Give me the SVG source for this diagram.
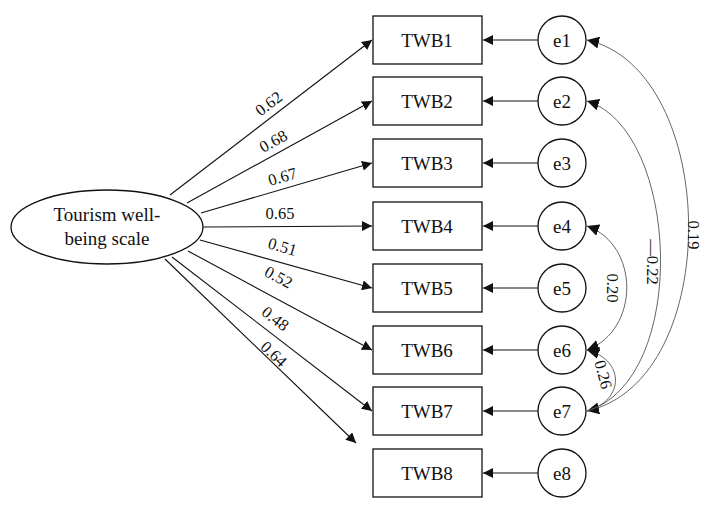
<svg xmlns="http://www.w3.org/2000/svg" width="711" height="514" viewBox="0 0 711 514">
<style>
.t{font-family:"Liberation Serif",serif;font-size:19px;fill:#111}
.l{font-family:"Liberation Serif",serif;font-size:16.5px;fill:#111}
.b{fill:#fff;stroke:#111;stroke-width:1.3}
.c{fill:none;stroke:#111;stroke-width:1.1}
.cv{fill:none;stroke:#555;stroke-width:0.9}
</style>
<defs>
<marker id="a" viewBox="0 0 10 10" refX="10" refY="5" markerWidth="10" markerHeight="10" markerUnits="userSpaceOnUse" orient="auto"><path d="M0,0L10,5L0,10z" fill="#111"/></marker>
<marker id="a2" viewBox="0 0 10 10" refX="10" refY="5" markerWidth="12" markerHeight="12" markerUnits="userSpaceOnUse" orient="auto-start-reverse"><path d="M0,0L10,5L0,10z" fill="#111"/></marker>
</defs>
<g id="latent"><ellipse class="b" cx="107" cy="227" rx="96" ry="37"/><text class="t" x="107" y="221" text-anchor="middle">Tourism well-</text><text class="t" x="107" y="245" text-anchor="middle">being scale</text></g>
<g id="TWB1"><rect class="b" x="373" y="16" width="109" height="48"/><text class="t" x="427" y="47" text-anchor="middle">TWB1</text></g>
<g id="TWB2"><rect class="b" x="373" y="77" width="109" height="48"/><text class="t" x="427" y="108" text-anchor="middle">TWB2</text></g>
<g id="TWB3"><rect class="b" x="373" y="139" width="109" height="48"/><text class="t" x="427" y="170" text-anchor="middle">TWB3</text></g>
<g id="TWB4"><rect class="b" x="373" y="202" width="109" height="48"/><text class="t" x="427" y="233" text-anchor="middle">TWB4</text></g>
<g id="TWB5"><rect class="b" x="373" y="264" width="109" height="48"/><text class="t" x="427" y="295" text-anchor="middle">TWB5</text></g>
<g id="TWB6"><rect class="b" x="373" y="326" width="109" height="48"/><text class="t" x="427" y="357" text-anchor="middle">TWB6</text></g>
<g id="TWB7"><rect class="b" x="373" y="387" width="109" height="48"/><text class="t" x="427" y="418" text-anchor="middle">TWB7</text></g>
<g id="TWB8"><rect class="b" x="373" y="449" width="109" height="48"/><text class="t" x="427" y="480" text-anchor="middle">TWB8</text></g>
<g id="e1"><circle class="b" cx="562" cy="40" r="24"/><text class="t" x="562" y="47" text-anchor="middle">e1</text></g>
<g id="e2"><circle class="b" cx="562" cy="101" r="24"/><text class="t" x="562" y="108" text-anchor="middle">e2</text></g>
<g id="e3"><circle class="b" cx="562" cy="163" r="24"/><text class="t" x="562" y="170" text-anchor="middle">e3</text></g>
<g id="e4"><circle class="b" cx="562" cy="226" r="24"/><text class="t" x="562" y="233" text-anchor="middle">e4</text></g>
<g id="e5"><circle class="b" cx="562" cy="288" r="24"/><text class="t" x="562" y="295" text-anchor="middle">e5</text></g>
<g id="e6"><circle class="b" cx="562" cy="350" r="24"/><text class="t" x="562" y="357" text-anchor="middle">e6</text></g>
<g id="e7"><circle class="b" cx="562" cy="411" r="24"/><text class="t" x="562" y="418" text-anchor="middle">e7</text></g>
<g id="e8"><circle class="b" cx="562" cy="473" r="24"/><text class="t" x="562" y="480" text-anchor="middle">e8</text></g>
<g id="connectors">
<line class="c" x1="170" y1="195" x2="372" y2="40" marker-end="url(#a)"/>
<line class="c" x1="187" y1="203" x2="372" y2="101" marker-end="url(#a)"/>
<line class="c" x1="201" y1="213" x2="372" y2="163" marker-end="url(#a)"/>
<line class="c" x1="203" y1="227" x2="372" y2="226" marker-end="url(#a)"/>
<line class="c" x1="200" y1="240" x2="372" y2="288" marker-end="url(#a)"/>
<line class="c" x1="188" y1="251" x2="372" y2="350" marker-end="url(#a)"/>
<line class="c" x1="172" y1="257" x2="372" y2="411" marker-end="url(#a)"/>
<line class="c" x1="165" y1="259" x2="356" y2="443" marker-end="url(#a)"/>
<line class="c" x1="538" y1="40" x2="483" y2="40" marker-end="url(#a)"/>
<line class="c" x1="538" y1="101" x2="483" y2="101" marker-end="url(#a)"/>
<line class="c" x1="538" y1="163" x2="483" y2="163" marker-end="url(#a)"/>
<line class="c" x1="538" y1="226" x2="483" y2="226" marker-end="url(#a)"/>
<line class="c" x1="538" y1="288" x2="483" y2="288" marker-end="url(#a)"/>
<line class="c" x1="538" y1="350" x2="483" y2="350" marker-end="url(#a)"/>
<line class="c" x1="538" y1="411" x2="483" y2="411" marker-end="url(#a)"/>
<line class="c" x1="538" y1="473" x2="483" y2="473" marker-end="url(#a)"/>
<path class="cv" d="M587,40 C720,70 725,380 587,411" marker-start="url(#a2)" marker-end="url(#a2)"/>
<path class="cv" d="M587,101 C680,130 690,380 587,411" marker-start="url(#a2)"/>
<path class="cv" d="M587,226 C640,245 640,330 587,350" marker-start="url(#a2)" marker-end="url(#a2)"/>
<path class="cv" d="M587,350 C625,360 625,400 587,411" marker-start="url(#a2)"/>
</g>
<g id="labels">
<text class="l" transform="translate(272,108) rotate(-37)" text-anchor="middle">0.62</text>
<text class="l" transform="translate(276,146) rotate(-29)" text-anchor="middle">0.68</text>
<text class="l" transform="translate(284,182) rotate(-16)" text-anchor="middle">0.67</text>
<text class="l" transform="translate(280,219)" text-anchor="middle">0.65</text>
<text class="l" transform="translate(281,252) rotate(16)" text-anchor="middle">0.51</text>
<text class="l" transform="translate(276,282) rotate(28)" text-anchor="middle">0.52</text>
<text class="l" transform="translate(272,323) rotate(38)" text-anchor="middle">0.48</text>
<text class="l" transform="translate(270,358) rotate(44)" text-anchor="middle">0.64</text>
<text class="l" transform="translate(688,235) rotate(90)" text-anchor="middle">0.19</text>
<text class="l" transform="translate(647,262) rotate(90)" text-anchor="middle">—0.22</text>
<text class="l" transform="translate(607,288) rotate(90)" text-anchor="middle">0.20</text>
<text class="l" transform="translate(598,376) rotate(75)" text-anchor="middle">0.26</text>
</g>
</svg>
